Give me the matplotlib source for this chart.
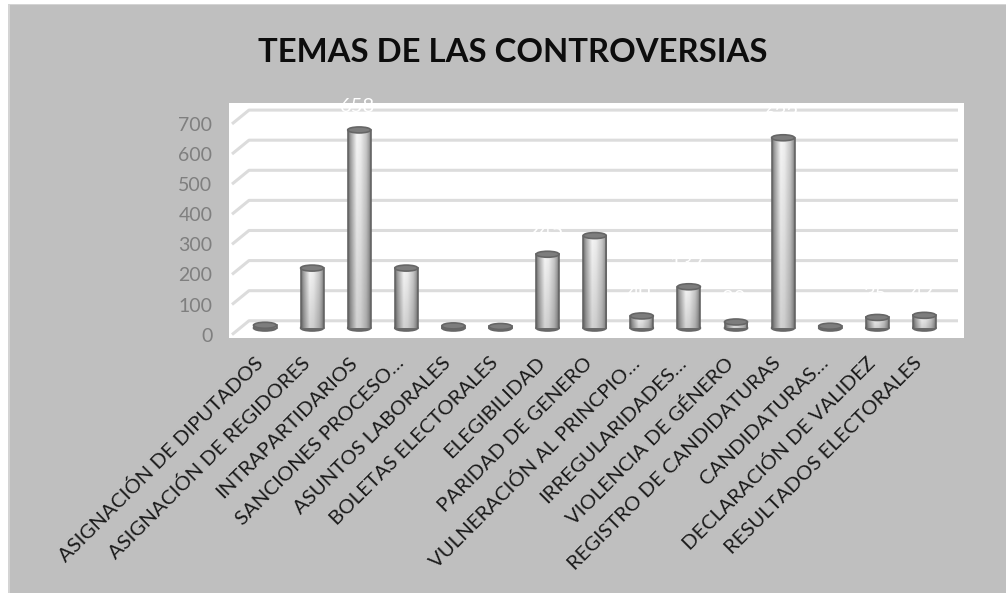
import numpy as np
import matplotlib
matplotlib.use("Agg")
import matplotlib.pyplot as plt
from matplotlib.patches import Ellipse, Rectangle
from matplotlib.transforms import ScaledTranslation

categories = ["ASIGNACIÓN DE DIPUTADOS", "ASIGNACIÓN DE REGIDORES", "INTRAPARTIDARIOS",
              "SANCIONES PROCESO…", "ASUNTOS LABORALES", "BOLETAS ELECTORALES",
              "ELEGIBILIDAD", "PARIDAD DE GENERO", "VULNERACIÓN AL PRINCPIO…",
              "IRREGULARIDADES…", "VIOLENCIA DE GÉNERO", "REGISTRO DE CANDIDATURAS",
              "CANDIDATURAS…", "DECLARACIÓN DE VALIDEZ", "RESULTADOS ELECTORALES"]
values = [9, 199, 658, 199, 7, 5, 245, 307, 40, 137, 20, 632, 6, 35, 42]
grid_values = [0, 100, 200, 300, 400, 500, 600, 700]

W, H = 1006, 593
fig = plt.figure(figsize=(W/100, H/100), dpi=100, facecolor="white")
plt.rcParams["font.family"] = ["Lato", "DejaVu Sans"]

def fx(p): return p / W
def fy(p): return 1 - p / H

fig.add_artist(Rectangle((fx(8), 0), 1 - fx(8), fy(4), transform=fig.transFigure,
                         fc="#bfbfbf", ec="none", zorder=-3))
fig.add_artist(Rectangle((fx(8), 0), 2/W, fy(4), transform=fig.transFigure,
                         fc="#d4d4d4", ec="none", zorder=-2))
fig.add_artist(Rectangle((fx(8), fy(5)), 1 - fx(8), 1/H, transform=fig.transFigure,
                         fc="#d4d4d4", ec="none", zorder=-2))

px_l, px_r, px_t, px_b = 229, 964, 103, 338
ax = fig.add_axes([fx(px_l), fy(px_b), (px_r-px_l)/W, (px_b-px_t)/H], facecolor="white")
step = 47.1; x0 = 265.0; base = 328.0; scale = 0.301
ax.set_xlim((px_l-x0)/step, (px_r-x0)/step)
ylim = ((base-px_b)/scale, (base-px_t)/scale)
for s in ax.spines.values():
    s.set_visible(False)

back_off = 24; front_off = -22
xfront, xback, xright = (232-x0)/step, (249-x0)/step, (958-x0)/step
for g in grid_values:
    ax.plot([xfront, xback, xright], [g+front_off, g+back_off, g+back_off],
            color="#dcdcdc", lw=2.2, solid_capstyle="butt", zorder=1)

h_shade = np.interp(np.linspace(0, 1, 64), [0, .1, .38, .55, .8, .93, 1],
                    [.42, .62, .96, .93, .78, .62, .42])
v_shade = np.linspace(1.0, .86, 32)
shade = np.outer(v_shade, h_shade)
w = 23/step
eh = 6/scale
rim = "#666666"
for i, v in enumerate(values):
    ax.add_patch(Ellipse((i, 0), w, eh, fc="#6a6a6a", ec=rim, lw=1.2, zorder=2))
    ax.imshow(shade, cmap="gray", vmin=0, vmax=1, extent=(i-w/2, i+w/2, 0, v), aspect="auto",
              zorder=3, interpolation="bilinear")
    for side in (-1, 1):
        ax.plot([i+side*w/2]*2, [0, v], color=rim, lw=1.2, zorder=3.5)
    ax.add_patch(Ellipse((i, v), w, eh, fc="#7d7d7d", ec=rim, lw=1.2, zorder=4))
    ax.annotate(str(v), (i, v), xytext=(-2*0.72, 23*0.72), textcoords="offset points",
                ha="center", va="center", color="white", fontsize=14.5, zorder=5,
                annotation_clip=False)

ax.set_ylim(*ylim)
ax.set_yticks([g+front_off for g in grid_values])
ax.set_yticklabels([str(g) for g in grid_values], color="#7f7f7f", fontsize=14)
ax.tick_params(axis="y", length=0, pad=12)
ax.set_xticks(range(len(categories)))
ax.set_xticklabels(categories, rotation=45, ha="right", va="center",
                   rotation_mode="anchor", color="#1a1a1a", fontsize=14.7)
ax.tick_params(axis="x", length=0, pad=16)
shift = ScaledTranslation(-5/100, 0, fig.dpi_scale_trans)
for lab in ax.get_xticklabels():
    lab.set_transform(lab.get_transform() + shift)

fig.text(fx(513), fy(52), "TEMAS DE LAS CONTROVERSIAS", ha="center", va="center",
         fontsize=23.7, fontweight="bold", color="#0d0d0d")

fig.savefig("out.png", dpi=100, facecolor=fig.get_facecolor())
